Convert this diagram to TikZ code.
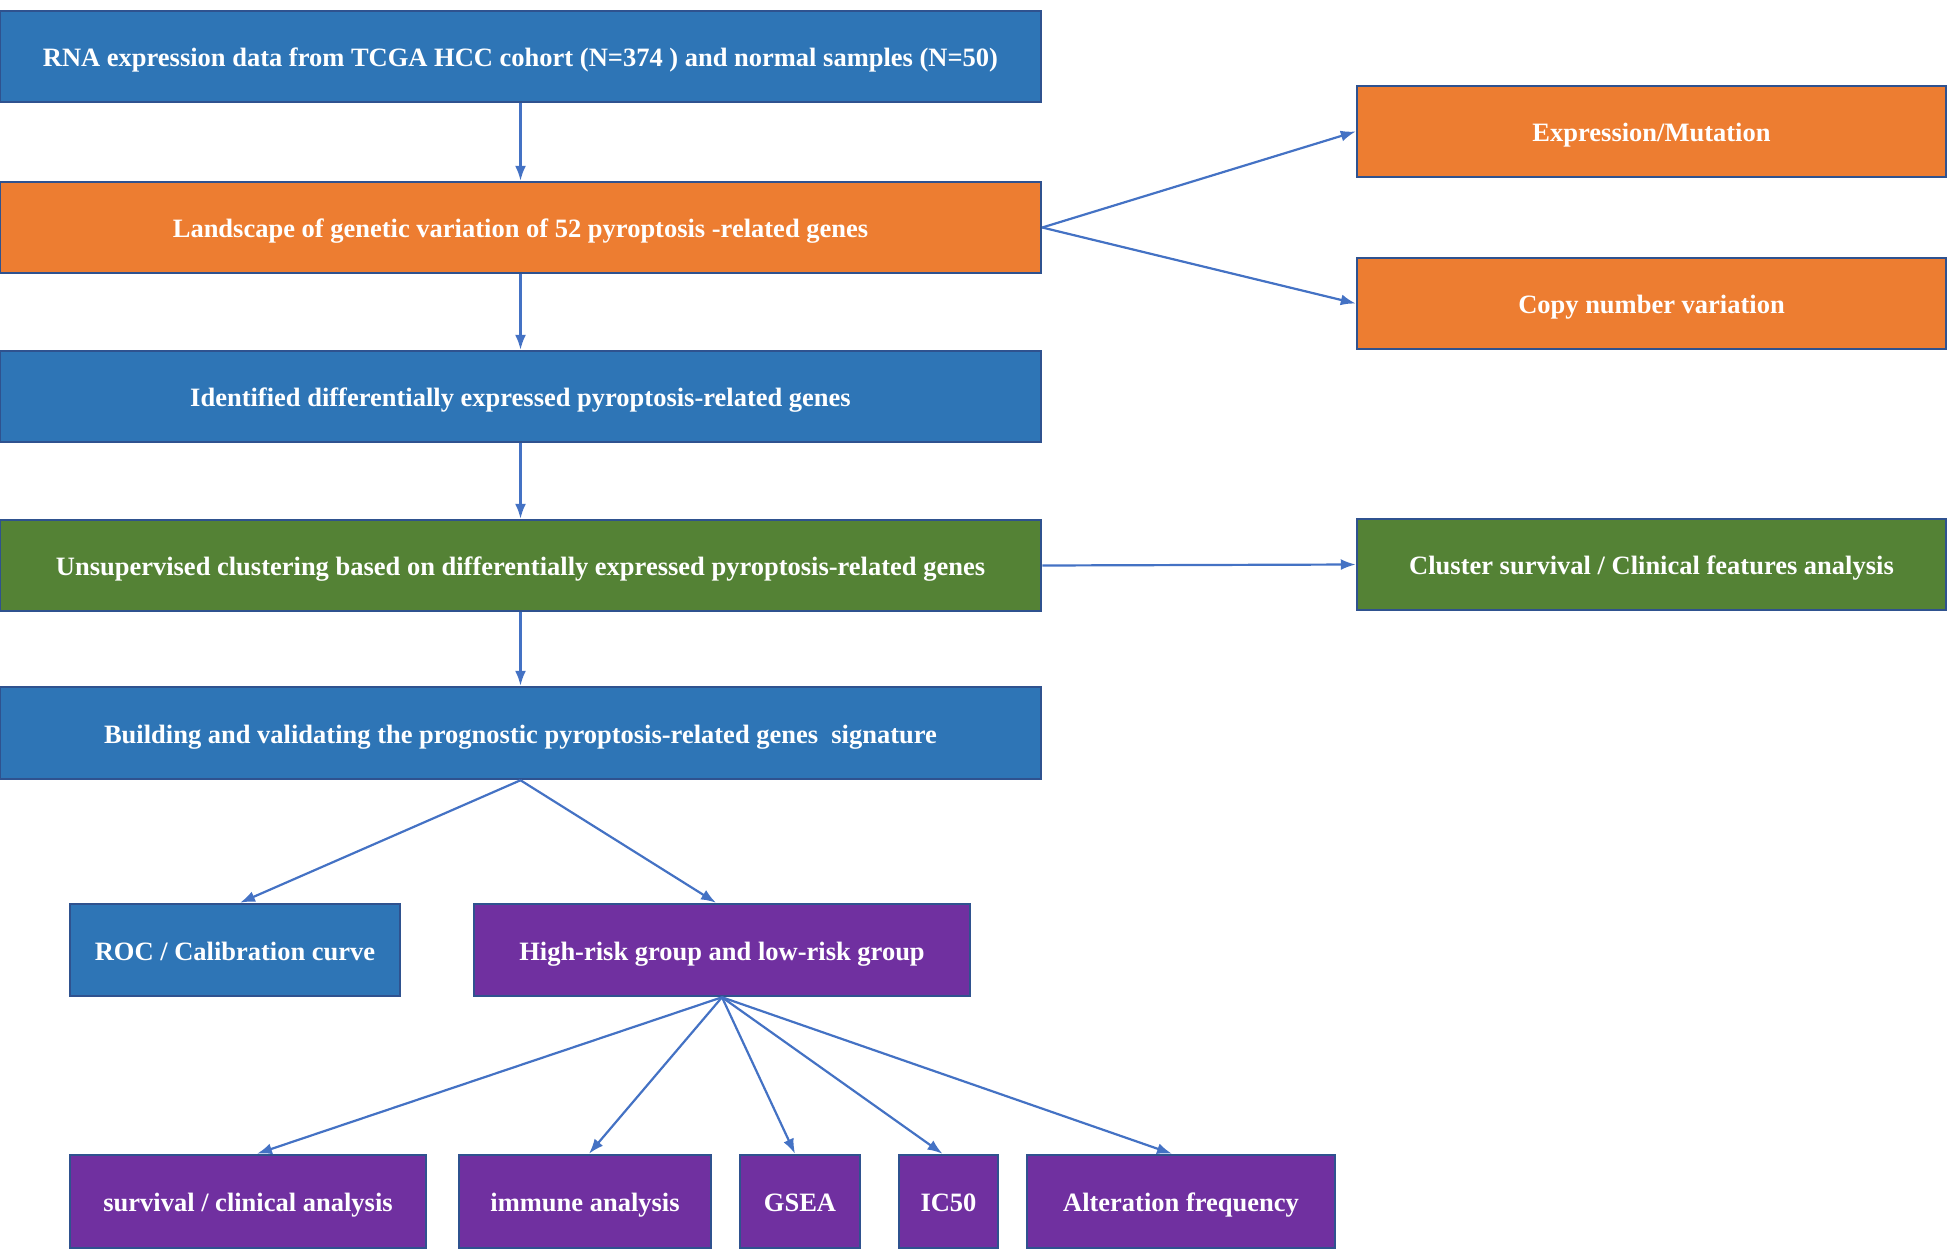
\documentclass[tikz,border=0pt]{standalone}
\usepackage{fontspec}
\setmainfont{Liberation Serif}
\usetikzlibrary{arrows.meta}
\definecolor{cblue}{HTML}{2E75B6}
\definecolor{corange}{HTML}{ED7D31}
\definecolor{cgreen}{HTML}{548235}
\definecolor{cpurple}{HTML}{7030A0}
\definecolor{cborder}{HTML}{2F528F}
\definecolor{carrow}{HTML}{4472C4}
\tikzset{
  bx/.style={draw=cborder, line width=2.5pt, text=white, font=\fontsize{26.5}{30}\selectfont\bfseries, inner sep=0pt, text height=20pt, text depth=0pt},
  conn/.style={draw=carrow, line width=2.2pt, -{Latex[length=15pt,width=11pt]}}
}
\begin{document}
\begin{tikzpicture}[x=1pt,y=-1pt]
\useasboundingbox (0,0) rectangle (1952,1250);
\node[bx, fill=cblue, minimum width=1041pt, minimum height=91pt] (n1) at (520.5,56.5) {RNA expression data from TCGA HCC cohort (N=374 ) and normal samples (N=50)};
\node[bx, fill=corange, minimum width=1041pt, minimum height=91pt] (n2) at (520.5,227.5) {Landscape of genetic variation of 52 pyroptosis -related genes};
\node[bx, fill=cblue, minimum width=1041pt, minimum height=91pt] (n3) at (520.5,396.5) {Identified differentially expressed pyroptosis-related genes};
\node[bx, fill=cgreen, minimum width=1041pt, minimum height=91pt] (n4) at (520.5,565.5) {Unsupervised clustering based on differentially expressed pyroptosis-related genes};
\node[bx, fill=cblue, minimum width=1041pt, minimum height=92pt] (n5) at (520.5,733) {Building and validating the prognostic pyroptosis-related genes~ signature};
\node[bx, fill=corange, minimum width=589pt, minimum height=91pt] (em) at (1651.5,131.5) {Expression/Mutation};
\node[bx, fill=corange, minimum width=589pt, minimum height=91pt] (cn) at (1651.5,303.5) {Copy number variation};
\node[bx, fill=cgreen, minimum width=589pt, minimum height=91pt] (cs) at (1651.5,564.5) {Cluster survival / Clinical features analysis};
\node[bx, fill=cblue, minimum width=330pt, minimum height=92pt] (roc) at (235,950) {ROC / Calibration curve};
\node[bx, fill=cpurple, minimum width=496pt, minimum height=92pt] (hr) at (722,950) {High-risk group and low-risk group};
\node[bx, fill=cpurple, minimum width=356pt, minimum height=93pt] (sv) at (248,1201.5) {survival / clinical analysis};
\node[bx, fill=cpurple, minimum width=252pt, minimum height=93pt] (im) at (585,1201.5) {immune analysis};
\node[bx, fill=cpurple, minimum width=120pt, minimum height=93pt] (gs) at (800,1201.5) {GSEA};
\node[bx, fill=cpurple, minimum width=99pt, minimum height=93pt] (ic) at (948.5,1201.5) {IC50};
\node[bx, fill=cpurple, minimum width=308pt, minimum height=93pt] (al) at (1181,1201.5) {Alteration frequency};
\draw[conn] (n1.south) -- (n2.north);
\draw[conn] (n2.south) -- (n3.north);
\draw[conn] (n3.south) -- (n4.north);
\draw[conn] (n4.south) -- (n5.north);
\draw[conn] (n2.east) -- (em.west);
\draw[conn] (n2.east) -- (cn.west);
\draw[conn] (n4.east) -- (cs.west);
\draw[conn] (n5.south) -- ([xshift=5pt]roc.north);
\draw[conn] (n5.south) -- ([xshift=-6pt]hr.north);
\draw[conn] (hr.south) -- ([xshift=9pt]sv.north);
\draw[conn] (hr.south) -- ([xshift=4pt]im.north);
\draw[conn] (hr.south) -- ([xshift=-5pt]gs.north);
\draw[conn] (hr.south) -- ([xshift=-6pt]ic.north);
\draw[conn] (hr.south) -- ([xshift=-9pt]al.north);
\end{tikzpicture}
\end{document}
